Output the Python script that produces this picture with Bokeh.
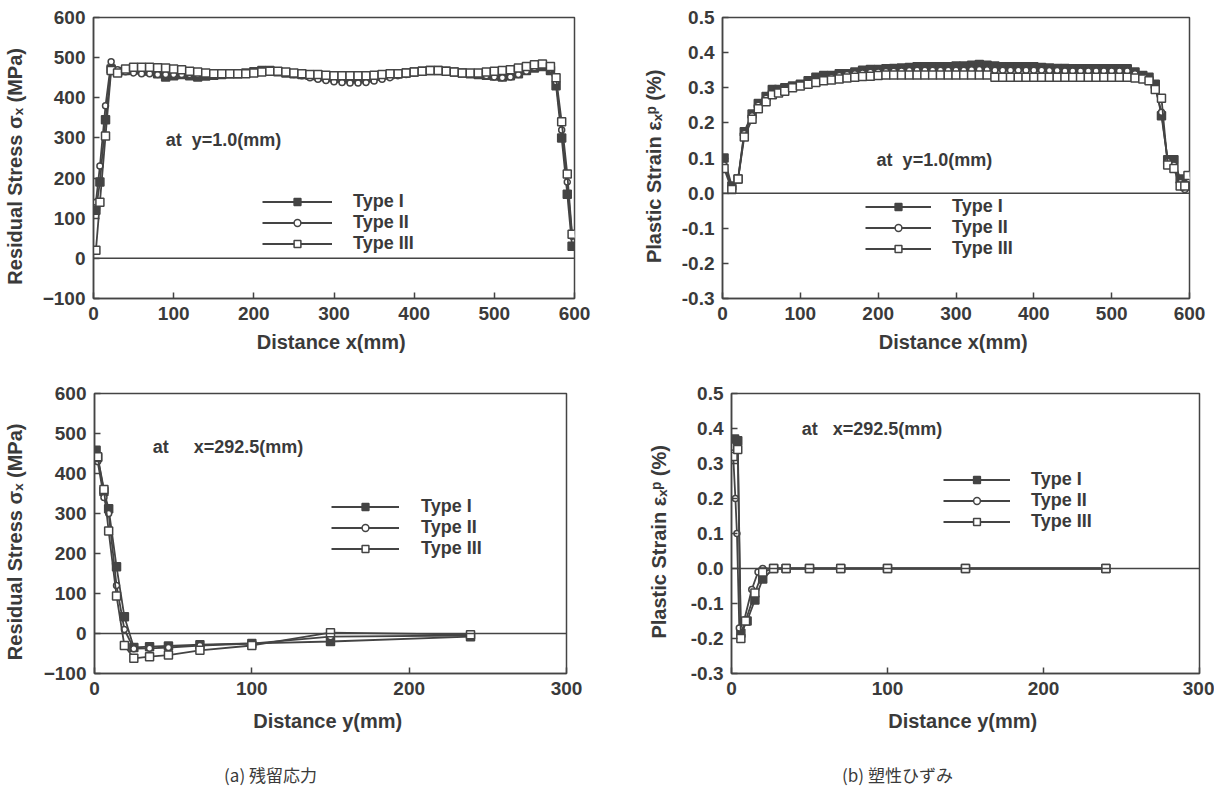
from bokeh.plotting import figure
from bokeh.models import Range1d, FixedTicker, Span, Legend, LegendItem, NumeralTickFormatter, Label
from bokeh.layouts import column, row
from bokeh.embed import file_html
from bokeh.resources import INLINE

# ---------------- data ----------------
series_names = ["Type I", "Type II", "Type III"]

# (a) top: residual stress along x at y = 1.0 mm
x_tl = [3, 8, 15, 22,
        30, 40, 50, 60, 70, 80, 90, 100, 110, 120, 130, 140, 150, 160, 170, 180,
        190, 200, 210, 220, 230, 240, 250, 260, 270, 280, 290, 300, 310, 320, 330,
        340, 350, 360, 370, 380, 390, 400, 410, 420, 430, 440, 450, 460, 470, 480,
        490, 500, 510, 520, 530, 540, 550, 560, 570,
        577, 584, 591, 597]
stress_x_type1 = [120, 190, 345, 472,
                  465, 468, 470, 470, 466, 460, 452, 455, 458, 455, 452, 454, 456, 458, 460, 460,
                  462, 465, 468, 468, 465, 462, 460, 458, 456, 454, 452, 450, 450, 450, 450,
                  452, 454, 456, 458, 460, 462, 464, 466, 468, 468, 466, 464, 462, 460, 458,
                  456, 454, 452, 455, 460, 468, 474, 478, 468,
                  430, 300, 160, 30]
stress_x_type2 = [140, 230, 380, 490,
                  470, 465, 462, 460, 460, 458, 458, 458, 458, 458, 458, 460, 460, 460, 460, 460,
                  462, 464, 466, 468, 466, 462, 458, 455, 450, 446, 443, 440, 438, 437, 437,
                  438, 442, 446, 450, 455, 458, 462, 466, 468, 470, 468, 465, 462, 460, 458,
                  455, 452, 450, 452, 458, 466, 475, 480, 472,
                  440, 320, 190, 55]
stress_x_type3 = [20, 140, 305, 468,
                  462, 472, 476, 476, 476, 475, 474, 472, 470, 466, 464, 462, 460, 460, 460, 460,
                  460, 462, 464, 466, 466, 464, 462, 460, 458, 458, 456, 455, 455, 455, 455,
                  455, 456, 458, 460, 460, 462, 464, 466, 468, 468, 466, 464, 462, 462, 462,
                  464, 466, 468, 470, 474, 478, 482, 484, 478,
                  450, 340, 210, 60]

# (b) top: plastic strain along x at y = 1.0 mm
x_tr = [2, 12, 20, 28, 38, 46, 56, 64, 72, 80, 90,
        100, 110, 120, 130, 140, 150, 160, 170, 180, 190, 200, 210, 220, 230, 240,
        250, 260, 270, 280, 290, 300, 310, 320, 330, 340, 350, 360, 370, 380, 390,
        400, 410, 420, 430, 440, 450, 460, 470, 480, 490, 500, 510, 520, 530, 540,
        548, 556, 564, 572, 580, 588, 594, 598]
strain_x_type1 = [0.10, 0.02, 0.04, 0.175, 0.225, 0.255, 0.275, 0.295, 0.295, 0.300, 0.305,
                  0.310, 0.320, 0.330, 0.335, 0.335, 0.340, 0.340, 0.345, 0.350, 0.352, 0.352, 0.354, 0.355, 0.356, 0.358,
                  0.360, 0.360, 0.360, 0.360, 0.360, 0.362, 0.362, 0.364, 0.366, 0.364, 0.362, 0.360, 0.360, 0.360, 0.360,
                  0.360, 0.358, 0.356, 0.355, 0.355, 0.354, 0.354, 0.354, 0.354, 0.354, 0.354, 0.354, 0.354, 0.345, 0.335,
                  0.330, 0.310, 0.220, 0.095, 0.095, 0.040, 0.020, 0.030]
strain_x_type2 = [0.08, 0.015, 0.04, 0.170, 0.220, 0.250, 0.270, 0.285, 0.290, 0.295, 0.300,
                  0.310, 0.315, 0.320, 0.325, 0.330, 0.335, 0.338, 0.340, 0.342, 0.344, 0.345, 0.346, 0.347, 0.348, 0.349,
                  0.350, 0.350, 0.350, 0.350, 0.350, 0.350, 0.350, 0.351, 0.352, 0.351, 0.350, 0.350, 0.350, 0.350, 0.350,
                  0.350, 0.350, 0.349, 0.349, 0.348, 0.348, 0.348, 0.348, 0.348, 0.348, 0.348, 0.348, 0.348, 0.340, 0.330,
                  0.325, 0.300, 0.230, 0.090, 0.080, 0.030, 0.010, 0.040]
strain_x_type3 = [0.07, 0.01, 0.04, 0.160, 0.210, 0.240, 0.260, 0.280, 0.285, 0.290, 0.300,
                  0.305, 0.310, 0.315, 0.320, 0.322, 0.325, 0.328, 0.330, 0.332, 0.333, 0.335, 0.336, 0.336, 0.336, 0.336,
                  0.336, 0.336, 0.336, 0.336, 0.336, 0.336, 0.336, 0.336, 0.336, 0.336, 0.330, 0.330, 0.330, 0.330, 0.330,
                  0.330, 0.330, 0.330, 0.330, 0.330, 0.330, 0.330, 0.330, 0.330, 0.330, 0.330, 0.330, 0.330, 0.328, 0.325,
                  0.320, 0.295, 0.270, 0.080, 0.070, 0.020, 0.020, 0.050]

# (a) bottom: residual stress along y at x = 292.5 mm
y_bl_type1 = [1, 2, 6, 9, 14, 19, 25, 35, 47, 67, 100, 150, 239]
stress_y_type1 = [458, 440, 355, 312, 167, 42, -35, -33, -31, -28, -25, -20, -8]
y_bl_type2 = [1, 2, 6, 9, 14, 19, 25, 35, 47, 67, 100, 150, 239]
stress_y_type2 = [448, 430, 340, 300, 120, 10, -38, -37, -35, -30, -25, -8, -5]
y_bl_type3 = [1, 2, 6, 9, 14, 19, 25, 35, 47, 67, 100, 150, 239]
stress_y_type3 = [440, 442, 360, 256, 94, -30, -62, -58, -54, -42, -30, 2, -3]

# (b) bottom: plastic strain along y at x = 292.5 mm
y_br_type1 = [2, 4, 6, 10, 15, 20, 27, 35, 50, 70, 100, 150, 240]
strain_y_type1 = [0.37, 0.365, -0.185, -0.15, -0.09, -0.03, 0.0, 0.0, 0.0, 0.0, 0.0, 0.0, 0.0]
y_br_type2 = [1, 2.5, 3.5, 5, 8, 13, 17, 20, 27, 35, 50, 70, 100, 150, 240]
strain_y_type2 = [0.33, 0.20, 0.10, -0.17, -0.15, -0.06, -0.01, 0.0, 0.0, 0.0, 0.0, 0.0, 0.0, 0.0, 0.0]
y_br_type3 = [1, 4, 6, 9, 15, 20, 27, 35, 50, 70, 100, 150, 240]
strain_y_type3 = [0.32, 0.34, -0.20, -0.15, -0.07, -0.01, 0.0, 0.0, 0.0, 0.0, 0.0, 0.0, 0.0]

stress_ticks = [-100, 0, 100, 200, 300, 400, 500, 600]
strain_ticks = [-0.3, -0.2, -0.1, 0.0, 0.1, 0.2, 0.3, 0.4, 0.5]
x600_ticks = [0, 100, 200, 300, 400, 500, 600]
x300_ticks = [0, 100, 200, 300]

captions = ["(a) 残留応力", "(b) 塑性ひずみ"]

# ---------------- style ----------------
INK = "#444444"
TXT = "#3a3a3a"
FONT = "Liberation Sans"


def make_fig(fw, fh, bl, br, bt, bb, xr, yr):
    p = figure(frame_width=fw, frame_height=fh, x_range=Range1d(*xr), y_range=Range1d(*yr),
               output_backend="svg", toolbar_location=None,
               min_border_left=bl, min_border_right=br, min_border_top=bt, min_border_bottom=bb)
    p.grid.visible = False
    p.outline_line_color = INK
    p.outline_line_width = 1.5
    p.background_fill_color = "white"
    p.border_fill_color = "white"
    return p


def style_axes(p, xticks, yticks, xlabel, ylabel, ystand, xstand=8, yfmt=None):
    p.xaxis.ticker = FixedTicker(ticks=xticks)
    p.yaxis.ticker = FixedTicker(ticks=yticks)
    if yfmt:
        p.yaxis.formatter = NumeralTickFormatter(format=yfmt)
    p.xaxis.axis_label = xlabel
    p.yaxis.axis_label = ylabel
    p.xaxis.axis_label_standoff = xstand
    p.yaxis.axis_label_standoff = ystand
    for ax in (p.xaxis[0], p.yaxis[0]):
        ax.major_tick_in = 6
        ax.major_tick_out = 0
        ax.minor_tick_in = 0
        ax.minor_tick_out = 0
        ax.major_tick_line_color = INK
        ax.major_tick_line_width = 1.5
        ax.axis_line_color = INK
        ax.axis_line_width = 1.5
        ax.major_label_standoff = 8
        ax.major_label_text_font = FONT
        ax.major_label_text_font_style = "bold"
        ax.major_label_text_font_size = "19px"
        ax.major_label_text_color = TXT
        ax.axis_label_text_font = FONT
        ax.axis_label_text_font_style = "bold"
        ax.axis_label_text_font_size = "20px"
        ax.axis_label_text_color = TXT
    p.add_layout(Span(location=0, dimension="width", line_color=INK, line_width=1.5))


def add_series(p, xs_list, ys_list, legend_loc, glyph_w, stand, row_h):
    items = []
    markers = [("square", 8, INK), ("circle", 6, "white"), ("square", 8, "white")]
    for name, xs, ys, (mk, sz, fill) in zip(series_names, xs_list, ys_list, markers):
        ln = p.line(xs, ys, line_color=INK, line_width=1.8)
        sc = p.scatter(xs, ys, marker=mk, size=sz, fill_color=fill, line_color=INK, line_width=1.5)
        items.append(LegendItem(label=name, renderers=[ln, sc]))
    leg = Legend(items=items, location=legend_loc, glyph_width=glyph_w, glyph_height=row_h,
                 label_height=row_h, label_standoff=stand, spacing=-3, padding=0, margin=0,
                 background_fill_alpha=0, border_line_color=None,
                 label_text_font=FONT, label_text_font_style="bold",
                 label_text_font_size="18px", label_text_color=TXT)
    p.add_layout(leg)


def add_note(p, x, y, text):
    p.add_layout(Label(x=x, y=y, text=text, text_font=FONT, text_font_style="bold",
                       text_font_size="18px", text_color=TXT, text_baseline="middle"))


# ---------------- figures ----------------
p1 = make_fig(481, 281, 89, 65, 17, 56, (0, 600), (-100, 600))
style_axes(p1, x600_ticks, stress_ticks, "Distance  x(mm)", "Residual  Stress  σₓ  (MPa)", 14)
add_series(p1, [x_tl, x_tl, x_tl], [stress_x_type1, stress_x_type2, stress_x_type3],
           (169, 44), 70, 21, 17)
add_note(p1, 90, 296, "at\u00a0\u00a0y=1.0(mm)")

p2 = make_fig(467, 281, 80, 20, 17, 56, (0, 600), (-0.3, 0.5))
style_axes(p2, x600_ticks, strain_ticks, "Distance  x(mm)", "Plastic  Strain  εₓᵖ  (%)", 14, yfmt="0.0")
add_series(p2, [x_tr, x_tr, x_tr], [strain_x_type1, strain_x_type2, strain_x_type3],
           (143, 39), 66, 21, 17)
add_note(p2, 198, 0.094, "at\u00a0\u00a0y=1.0(mm)")

p3 = make_fig(472, 280, 85, 78, 38, 60, (0, 300), (-100, 600))
style_axes(p3, x300_ticks, stress_ticks, "Distance  y(mm)", "Residual  Stress  σₓ  (MPa)", 15, xstand=12)
add_series(p3, [y_bl_type1, y_bl_type2, y_bl_type3], [stress_y_type1, stress_y_type2, stress_y_type3],
           (237, 114), 68, 22, 17)
add_note(p3, 37, 467, "at\u00a0\u00a0\u00a0\u00a0\u00a0x=292.5(mm)")

p4 = make_fig(468, 280, 84, 15, 38, 60, (0, 300), (-0.3, 0.5))
style_axes(p4, x300_ticks, strain_ticks, "Distance  y(mm)", "Plastic  Strain  εₓᵖ  (%)", 18, xstand=12, yfmt="0.0")
add_series(p4, [y_br_type1, y_br_type2, y_br_type3], [strain_y_type1, strain_y_type2, strain_y_type3],
           (212, 141), 67, 21, 17)
add_note(p4, 45, 0.40, "at\u00a0\u00a0\u00a0x=292.5(mm)")

# caption strip
pc = figure(width=1202, height=56, x_range=Range1d(0, 1202), y_range=Range1d(0, 56),
            output_backend="svg", toolbar_location=None,
            min_border_left=0, min_border_right=0, min_border_top=0, min_border_bottom=0)
pc.axis.visible = False
pc.grid.visible = False
pc.outline_line_color = None
for cx, txt in zip([270, 897], captions):
    pc.add_layout(Label(x=cx, y=16, text=txt, text_font="Noto Sans CJK JP",
                        text_font_size="17px", text_color=TXT, text_align="center",
                        text_baseline="middle"))

layout = column(row(p1, p2), row(p3, p4), pc)

open("out.html", "w").write(file_html(layout, INLINE))
